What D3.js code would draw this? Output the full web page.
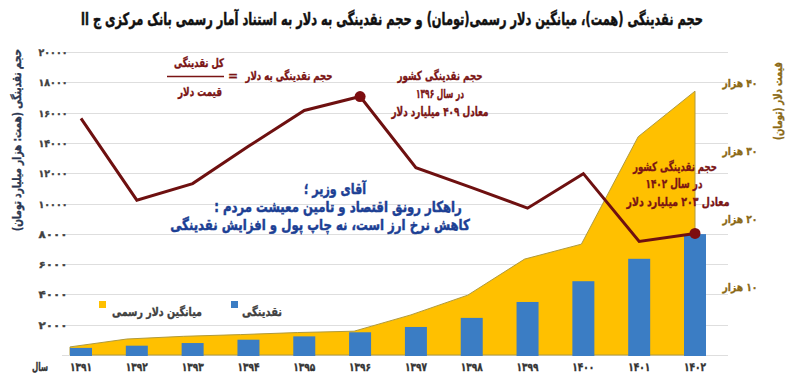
<!DOCTYPE html>
<html>
<head>
<meta charset="utf-8">
<script src="https://cdn.jsdelivr.net/npm/d3@7"></script>
<style>
  body { margin: 0; background: #fff; }
  svg text { font-family: "DejaVu Sans", sans-serif; font-weight: bold; direction: rtl; paint-order: stroke; }
</style>
</head>
<body>
<svg id="chart"></svg>
<script>
// سال ها
const years = ["1391", "1392", "1393", "1394", "1395", "1396", "1397", "1398", "1399", "1400", "1401", "1402"];
// نقدینگی (همت)
const liquidity = [470, 615, 790, 1010, 1230, 1500, 1850, 2450, 3500, 4870, 6350, 7980];
// میانگین دلار رسمی (تومان)
const dollar = [1190, 2350, 2750, 3000, 3300, 3500, 5900, 8800, 14100, 16300, 32100, 38800];
// حجم نقدینگی به دلار (میلیارد دلار)
const liqUsd = [376, 253, 278, 334, 388, 409, 302, 272, 241, 293, 191, 203];

const leftTicks = [2000, 4000, 6000, 8000, 10000, 12000, 14000, 16000, 18000, 20000];
const rightTicks = [10000, 20000, 30000, 40000];

const width = 793, height = 383;
const maroon = "#7a1414";

const toFa = s => String(s).replace(/\d/g, d => "۰۱۲۳۴۵۶۷۸۹"[d]);

const svg = d3.select("#chart")
    .attr("width", width)
    .attr("height", height);

// مقیاس ها
const x = d3.scaleBand().domain(years).range([70, 706]).paddingInner(0.606).paddingOuter(0);
const xArea = d3.scalePoint().domain(years)
    .range([x(years[0]), x(years[years.length - 1]) + x.bandwidth() / 2]);
const yLeft = d3.scaleLinear().domain([0, 20000]).range([355, 52]);
const yRight = d3.scaleLinear().domain([0, 40000]).range([355, 83]);
const yLine = d3.scaleLinear().domain([20, 470]).range([355, 56]);

// خطوط راهنما
svg.append("g")
  .selectAll("line")
  .data([0].concat(leftTicks))
  .enter().append("line")
    .attr("x1", 62).attr("x2", 728)
    .attr("y1", d => Math.round(yLeft(d)) + 0.5)
    .attr("y2", d => Math.round(yLeft(d)) + 0.5)
    .attr("stroke", "#dedede")
    .attr("stroke-width", 1);

// ناحیه دلار
const area = d3.area()
    .x((d, i) => xArea(years[i]))
    .y0(yRight(0))
    .y1(d => yRight(d));
svg.append("path")
    .datum(dollar)
    .attr("d", area)
    .attr("fill", "#ffc000")
    .attr("stroke", "#b09a3c")
    .attr("stroke-width", 1);

// ستون های نقدینگی
svg.append("g")
  .selectAll("rect")
  .data(liquidity)
  .enter().append("rect")
    .attr("x", (d, i) => x(years[i]))
    .attr("width", x.bandwidth())
    .attr("y", d => yLeft(d))
    .attr("height", d => yLeft(0) - yLeft(d) + 1)
    .attr("fill", "#3b7dc4");

// خط نقدینگی به دلار
const line = d3.line()
    .x((d, i) => x(years[i]) + x.bandwidth() / 2)
    .y(d => yLine(d));
svg.append("path")
    .datum(liqUsd)
    .attr("d", line)
    .attr("fill", "none")
    .attr("stroke", "#6e1010")
    .attr("stroke-width", 3)
    .attr("stroke-linejoin", "miter");

svg.append("g")
  .selectAll("circle")
  .data([5, 11])
  .enter().append("circle")
    .attr("cx", i => x(years[i]) + x.bandwidth() / 2)
    .attr("cy", i => yLine(liqUsd[i]))
    .attr("r", 5.5)
    .attr("fill", "#7d0d10");

// متن کمکی: عرض متن با scale افقی به اندازه دلخواه می رسد
function label(txt, px, py, size, color, len, sw, rot) {
  const t = svg.append("text")
      .attr("x", 0).attr("y", 0)
      .attr("text-anchor", "middle")
      .attr("font-size", size)
      .attr("fill", color)
      .attr("stroke", color)
      .attr("stroke-width", sw || 0.35)
      .text(txt);
  let k = 1;
  if (len) k = len / t.node().getComputedTextLength();
  t.attr("transform", `translate(${px},${py}) rotate(${rot || 0}) scale(${k},1)`);
  return t;
}

// محور چپ
leftTicks.forEach(v => label(toFa(v), 53, yLeft(v) + 4, 10, "#404040", 29));

// محور راست
rightTicks.forEach(v => label(toFa(v / 1000) + " هزار", 740, yRight(v) + 4, 11, "#8b6914", 35));

// محور افقی
years.forEach(y => label(toFa(y), x(y) + x.bandwidth() / 2, 371, 11.5, "#333", 22));
label("سال", 40, 371, 11.5, "#333", 16);

// عنوان
label("حجم نقدینگی (همت)، میانگین دلار رسمی(تومان) و حجم نقدینگی به دلار به استناد آمار رسمی بانک مرکزی ج اا",
      392, 25, 17, "#111", 622, 0.5);

// عنوان محورها
label("حجم نقدینگی (همت: هزار میلیارد تومان)", 21, 140, 12, "#2b3650", 182, 0.35, -90);
label("قیمت دلار (تومان)", 782, 101, 11.5, "#8b6914", 78, 0.35, -90);

// فرمول
label("کل نقدینگی", 199, 67, 12, maroon, 50);
svg.append("line")
    .attr("x1", 167).attr("x2", 224)
    .attr("y1", 76.5).attr("y2", 76.5)
    .attr("stroke", maroon).attr("stroke-width", 1.5);
label("قیمت دلار", 200, 96, 12, maroon, 44);
label("=", 233, 80, 12, maroon);
label("حجم نقدینگی به دلار", 289, 80, 12, maroon, 87);

// یادداشت ۱۳۹۶
label("حجم نقدینگی کشور", 440, 80, 12.5, maroon, 85);
label("در سال " + toFa(1396), 440, 98, 12.5, maroon, 48);
label("معادل " + toFa(409) + " میلیارد دلار", 440, 116, 12.5, maroon, 97);

// یادداشت ۱۴۰۲
label("حجم نقدینگی کشور", 675, 171, 12.5, maroon, 84);
label("در سال " + toFa(1402), 674, 188, 12.5, maroon, 57);
label("معادل " + toFa(203) + " میلیارد دلار", 678, 206, 12.5, maroon, 103);

// پیام
label("آقای وزیر ؛", 335, 194, 15, "#1c3f94", 62, 0.5);
label("راهکار رونق اقتصاد و تامین معیشت مردم :", 338, 212, 15, "#1c3f94", 248, 0.5);
label("کاهش نرخ ارز است، نه چاپ پول و افزایش نقدینگی", 320, 230, 15, "#1c3f94", 300, 0.5);

// راهنما
svg.append("rect").attr("x", 99).attr("y", 301).attr("width", 7).attr("height", 7).attr("fill", "#ffc000");
label("میانگین دلار رسمی", 157, 316, 12, "#404040", 90);
svg.append("rect").attr("x", 231).attr("y", 301).attr("width", 7).attr("height", 7).attr("fill", "#3b7dc4");
label("نقدینگی", 262, 316, 12, "#404040", 40);
</script>
</body>
</html>
